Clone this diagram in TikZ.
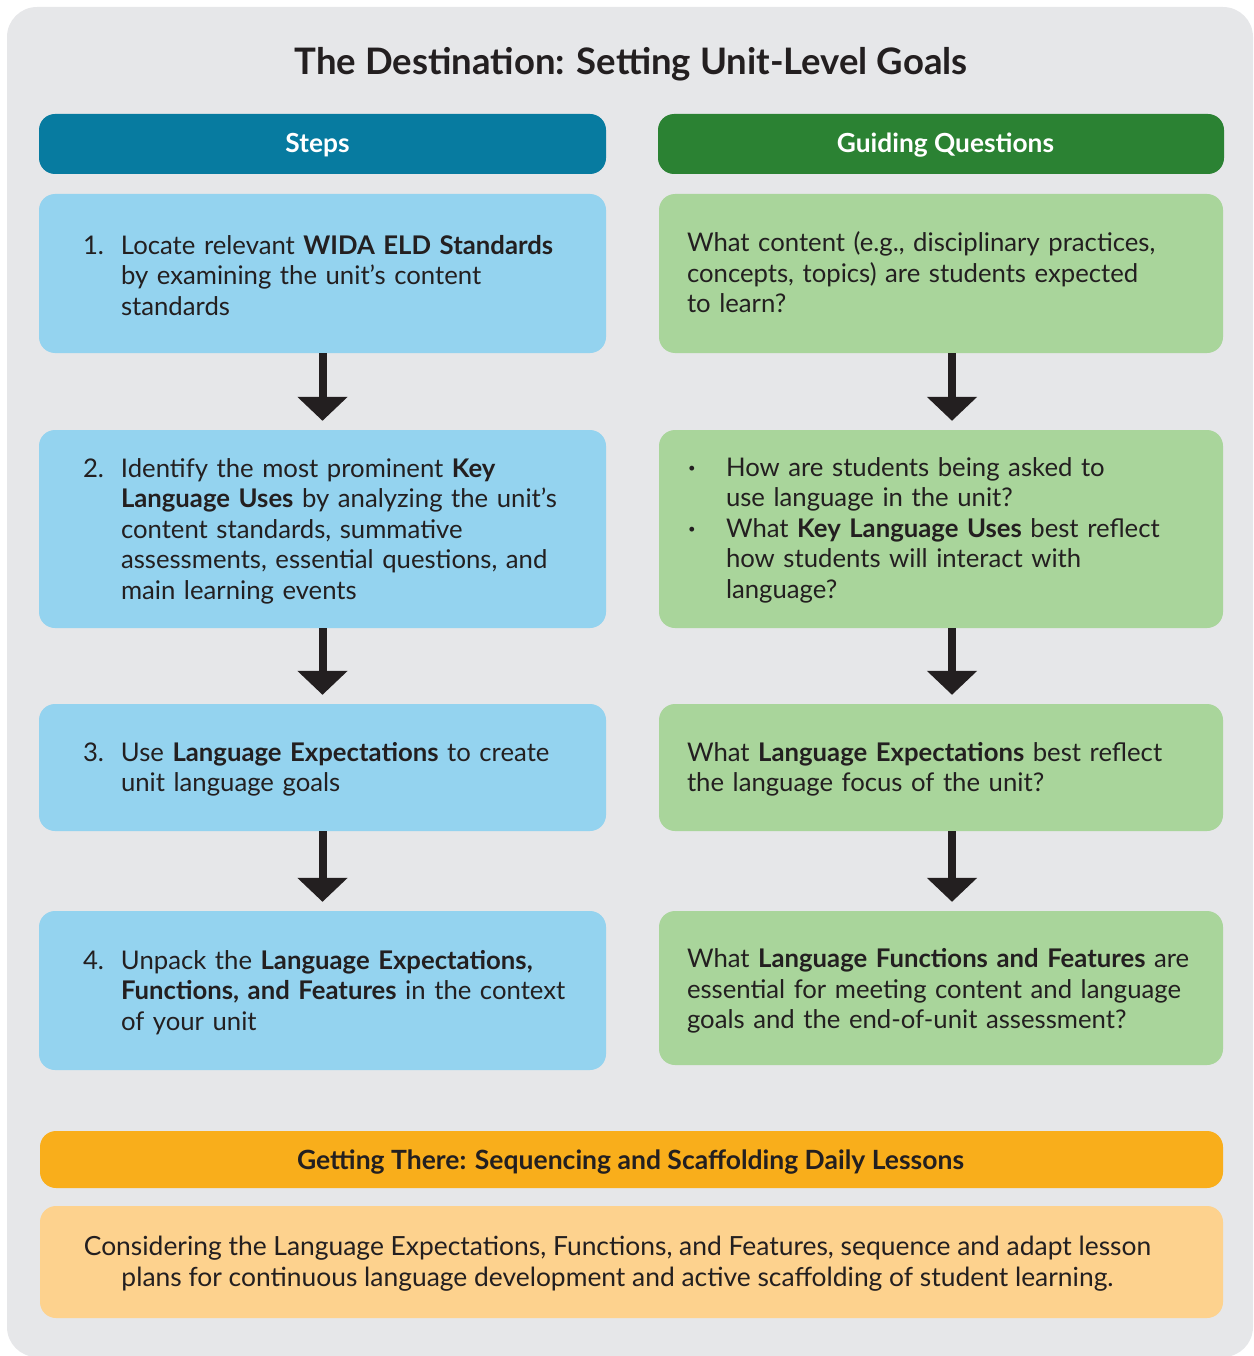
\documentclass[tikz,border=0pt]{standalone}
\usepackage{fontspec}
\setmainfont{Lato}
\usetikzlibrary{arrows.meta}
\definecolor{bgray}{HTML}{E6E7E9}
\definecolor{stepsblue}{HTML}{077BA0}
\definecolor{guidegreen}{HTML}{2B8233}
\definecolor{lblue}{HTML}{94D3EF}
\definecolor{lgreen}{HTML}{A9D59B}
\definecolor{orangehd}{HTML}{F9AE1B}
\definecolor{lorange}{HTML}{FDD28E}
\definecolor{ink}{HTML}{231F20}
\tikzset{
  boxbase/.style={rounded corners=16pt, inner sep=0pt, draw=none},
  lbox/.style={boxbase, fill=lblue, minimum width=567pt},
  gbox/.style={boxbase, fill=lgreen, minimum width=564pt},
  hdr/.style={boxbase, minimum height=60pt},
  hdrtext/.style={text=white, font=\fontsize{26.3}{30}\selectfont\bfseries, inner sep=0pt},
  txt/.style={anchor=west, inner sep=0pt, text width=540pt, align=left, text=ink,
    font=\fontsize{25.7}{30.5}\selectfont},
  bigarrow/.style={draw=ink, line width=8pt, shorten >=9pt,
    -{Triangle[width=49pt,length=24pt]}},
}
\newcommand{\numitem}[1]{\hangindent=38pt\hangafter=1\noindent\makebox[38pt][l]{#1}}
\newcommand{\bulitem}{\hangindent=39pt\hangafter=1\noindent\makebox[39pt][l]{\hspace{1pt}\raisebox{4pt}{\fontsize{13}{13}\selectfont\textbullet}}}
\begin{document}
\begin{tikzpicture}[x=1pt,y=-1pt]
\useasboundingbox (0,0) rectangle (1253,1356);
\fill[bgray, rounded corners=30pt] (7,7) rectangle (1253,1357);

\node[text=ink, font=\fontsize{36.5}{42}\selectfont\bfseries] (title) at (631,64) {The Destination: Setting Unit-Level Goals};

\node[hdr, fill=stepsblue, minimum width=567pt] (steps) at (322.5,144) {};
\node[hdrtext] (tsteps) at ([xshift=-5pt,yshift=-1pt]steps.center) {Steps};
\node[hdr, fill=guidegreen, minimum width=566pt] (guide) at (941,144) {};
\node[hdrtext] (tguide) at ([xshift=4.5pt,yshift=-1pt]guide.center) {Guiding Questions};

% left column
\node[lbox, minimum height=159pt] (b1) at (322.5,273.5) {};
\node[txt] (tb1) at ([xshift=44pt,yshift=-2pt]b1.west) {\numitem{1.}Locate relevant \textbf{WIDA ELD Standards}\newline by examining the unit’s content\newline standards\par};

\node[lbox, minimum height=198pt] (b2) at (322.5,529) {};
\node[txt] (tb2) at ([xshift=44pt,yshift=-2pt]b2.west) {\numitem{2.}Identify the most prominent \textbf{Key}\newline \textbf{Language Uses} by analyzing the unit’s\newline content standards, summative\newline assessments, essential questions, and\newline main learning events\par};

\node[lbox, minimum height=127pt] (b3) at (322.5,767.5) {};
\node[txt] (tb3) at ([xshift=44pt,yshift=-2pt]b3.west) {\numitem{3.}Use \textbf{Language Expectations} to create\newline unit language goals\par};

\node[lbox, minimum height=159pt] (b4) at (322.5,990.5) {};
\node[txt] (tb4) at ([xshift=44pt,yshift=-2pt]b4.west) {\numitem{4.}Unpack the \textbf{Language Expectations,}\newline \textbf{Functions, and Features} in the context\newline of your unit\par};

% right column
\node[gbox, minimum height=159pt] (g1) at (941,273.5) {};
\node[txt] (tg1) at ([xshift=28pt,yshift=1pt]g1.west) {What content (e.g., disciplinary practices,\newline concepts, topics) are students expected\newline to learn?};

\node[gbox, minimum height=198pt] (g2) at (941,529) {};
\node[txt] (tg2) at ([xshift=28pt,yshift=-1pt]g2.west) {\bulitem How are students being asked to\newline use language in the unit?\par
\bulitem What \textbf{Key Language Uses} best reflect\newline how students will interact with\newline language?\par};

\node[gbox, minimum height=127pt] (g3) at (941,767.5) {};
\node[txt] (tg3) at ([xshift=28pt,yshift=-2pt]g3.west) {What \textbf{Language Expectations} best reflect\newline the language focus of the unit?};

\node[gbox, minimum height=154pt] (g4) at (941,988) {};
\node[txt] (tg4) at ([xshift=28pt,yshift=-3pt]g4.west) {What \textbf{Language Functions and Features} are\newline essential for meeting content and language\newline goals and the end-of-unit assessment?};

% arrows
\draw[bigarrow] (b1.south) -- (b2.north);
\draw[bigarrow] (b2.south) -- (b3.north);
\draw[bigarrow] (b3.south) -- (b4.north);
\draw[bigarrow] ([xshift=11pt]g1.south) -- ([xshift=11pt]g2.north);
\draw[bigarrow] ([xshift=11pt]g2.south) -- ([xshift=11pt]g3.north);
\draw[bigarrow] ([xshift=11pt]g3.south) -- ([xshift=11pt]g4.north);

% bottom
\node[boxbase, fill=orangehd, minimum width=1183pt, minimum height=57pt] (there) at (631.5,1159.5) {};
\node[text=ink, font=\fontsize{26.5}{30}\selectfont\bfseries, inner sep=0pt] (tthere) at ([xshift=-1pt,yshift=-3pt]there.center) {Getting There: Sequencing and Scaffolding Daily Lessons};
\node[boxbase, fill=lorange, minimum width=1183pt, minimum height=112pt] (cons) at (631.5,1262) {};
\node[inner sep=0pt, align=center, text=ink, font=\fontsize{26.4}{31}\selectfont] (tcons) at ([xshift=-14pt,yshift=-2pt]cons.center) {Considering the Language Expectations, Functions, and Features, sequence and adapt lesson\\ plans for continuous language development and active scaffolding of student learning.};
\end{tikzpicture}
\end{document}
